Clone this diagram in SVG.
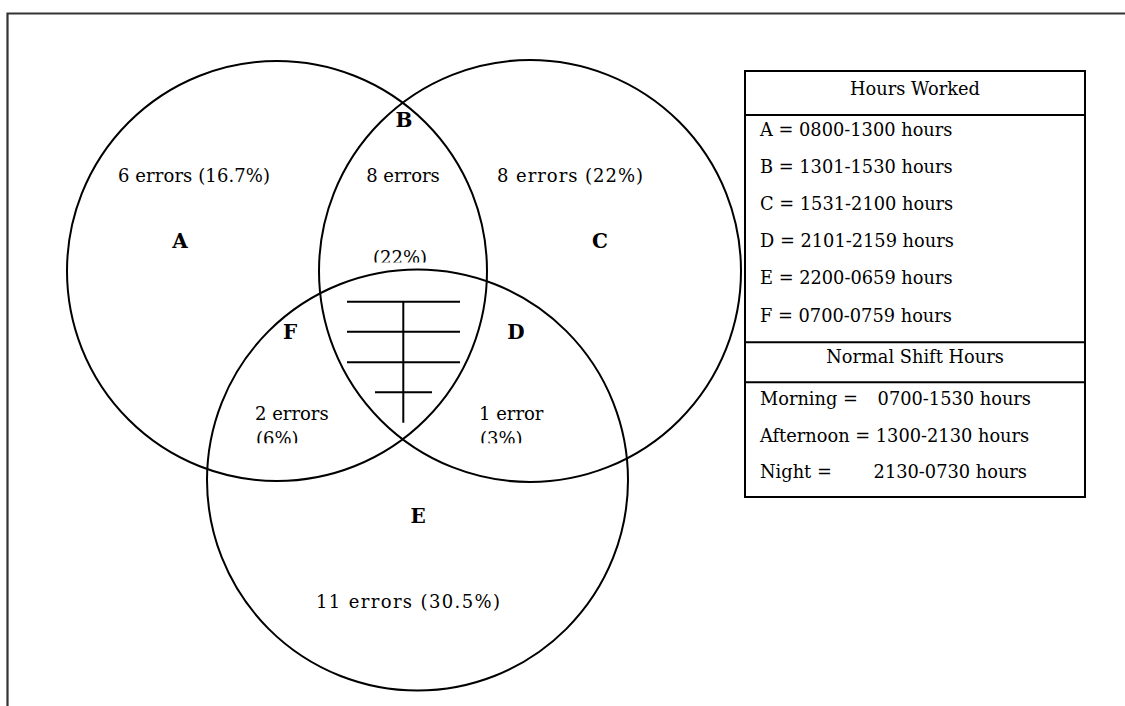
<svg xmlns="http://www.w3.org/2000/svg" width="1125" height="706" viewBox="0 0 1125 706">
  <style>
    text { font-family: "DejaVu Serif", "Liberation Serif", serif; fill: #000; }
    .lbl { font-size: 18px; }
    .big { font-size: 20px; font-weight: bold; text-anchor: middle; }
    .leg { font-size: 17.8px; }
    .mid { text-anchor: middle; }
    .end { text-anchor: end; }
    .ring { fill: none; stroke: #000; stroke-width: 2; }
    .rule { stroke: #000; stroke-width: 2; fill: none; }
  </style>
  <defs>
    <clipPath id="cutB"><rect x="340" y="200" width="130" height="62.5"/></clipPath>
    <clipPath id="cutFD"><rect x="230" y="400" width="330" height="43.3"/></clipPath>
  </defs>
  <rect width="1125" height="706" fill="#fff"/>

  <!-- page frame (top and left edges) -->
  <path d="M7.5 706 V13.5 H1125" fill="none" stroke="#333" stroke-width="2.2"/>

  <!-- shift circles -->
  <g id="circle-A"><circle class="ring" cx="277" cy="271" r="210"/></g>
  <g id="circle-C"><circle class="ring" cx="530" cy="271" r="211"/></g>
  <g id="circle-E"><circle class="ring" cx="417.5" cy="480" r="210.5"/></g>

  <!-- hatched mark in the central overlap -->
  <g id="centre-mark">
    <path class="rule" d="M347 301.7 H460 M347 331.7 H460 M347 362.3 H460 M375 392.3 H432 M403.3 301.7 V422.7"/>
  </g>

  <g id="region-A">
    <text class="lbl" x="118" y="182" textLength="152" lengthAdjust="spacing">6 errors (16.7%)</text>
    <text class="big" x="180" y="248">A</text>
  </g>
  <g id="region-B">
    <text class="big" x="404" y="127">B</text>
    <text class="lbl mid" x="403" y="182">8 errors</text>
    <text class="lbl mid" x="400" y="264" clip-path="url(#cutB)">(22%)</text>
  </g>
  <g id="region-C">
    <text class="lbl" x="497" y="182" textLength="146" lengthAdjust="spacing">8 errors (22%)</text>
    <text class="big" x="600" y="248">C</text>
  </g>
  <g id="region-F">
    <text class="big" x="290" y="339">F</text>
    <text class="lbl" x="255" y="420">2 errors</text>
    <text class="lbl" x="256" y="445" clip-path="url(#cutFD)">(6%)</text>
  </g>
  <g id="region-D">
    <text class="big" x="516" y="339">D</text>
    <text class="lbl" x="479" y="420">1 error</text>
    <text class="lbl" x="480" y="445" clip-path="url(#cutFD)">(3%)</text>
  </g>
  <g id="region-E">
    <text class="big" x="418" y="523">E</text>
    <text class="lbl" x="316" y="608" textLength="184" lengthAdjust="spacing">11 errors (30.5%)</text>
  </g>

  <!-- legend table -->
  <g id="legend">
    <rect x="745" y="71" width="340" height="426" fill="#fff" stroke="#000" stroke-width="2"/>
    <path class="rule" d="M745 115 H1085 M745 342.3 H1085 M745 382.3 H1085"/>
    <text class="leg mid" x="915" y="95">Hours Worked</text>
    <text class="leg" x="760" y="136">A = 0800-1300 hours</text>
    <text class="leg" x="760" y="173">B = 1301-1530 hours</text>
    <text class="leg" x="760" y="210">C = 1531-2100 hours</text>
    <text class="leg" x="760" y="247">D = 2101-2159 hours</text>
    <text class="leg" x="760" y="284">E = 2200-0659 hours</text>
    <text class="leg" x="760" y="322">F = 0700-0759 hours</text>
    <text class="leg mid" x="915" y="363">Normal Shift Hours</text>
    <text class="leg" x="760" y="405">Morning =</text>
    <text class="leg end" x="1031" y="405">0700-1530 hours</text>
    <text class="leg" x="760" y="442">Afternoon = 1300-2130 hours</text>
    <text class="leg" x="760" y="478">Night =</text>
    <text class="leg end" x="1027" y="478">2130-0730 hours</text>
  </g>
</svg>
